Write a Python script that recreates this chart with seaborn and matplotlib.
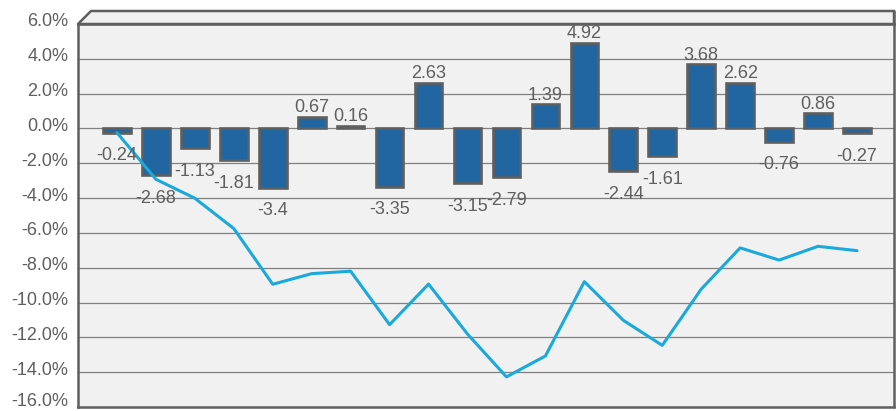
import numpy as np
import pandas as pd
import matplotlib
matplotlib.use('Agg')
import matplotlib.pyplot as plt
from matplotlib.patches import Polygon
from matplotlib.ticker import FuncFormatter
from matplotlib.transforms import ScaledTranslation
import seaborn as sns

# data
periods = list(range(1, 21))
bar_vals = [-0.24, -2.68, -1.13, -1.81, -3.4, 0.67, 0.16, -3.35, 2.63, -3.15,
            -2.79, 1.39, 4.92, -2.44, -1.61, 3.68, 2.62, -0.76, 0.86, -0.27]
line_vals = [-0.24, -2.92, -4.01, -5.75, -8.95, -8.34, -8.20, -11.27, -8.94, -11.81,
             -14.27, -13.07, -8.80, -11.02, -12.46, -9.23, -6.86, -7.56, -6.77, -7.02]
y_ticks = [6, 4, 2, 0, -2, -4, -6, -8, -10, -12, -14, -16]

bar_color = '#2166a0'
edge_color = '#5f5f5f'
line_color = '#19a9dc'
text_color = '#5f5f5f'
bg_color = '#f1f1f1'
font_size = 13

sns.set_style('white')
plt.rcParams['font.family'] = ['Liberation Sans', 'DejaVu Sans']

df = pd.DataFrame({'period': periods, 'ret': bar_vals, 'cum': line_vals})
df['pos'] = np.arange(len(df))

fig = plt.figure(figsize=(8.96, 4.11), dpi=100)
ax = fig.add_axes([78 / 896, 1 - 407 / 411, (894 - 78) / 896, (407 - 24) / 411])
ax.set_facecolor(bg_color)

# grid lines
for t in y_ticks[1:-1]:
    ax.axhline(t, color='#808080', lw=0.9, zorder=0)

sns.barplot(data=df, x='period', y='ret', color=bar_color, width=0.71,
            edgecolor=edge_color, linewidth=1.9, saturation=1, ax=ax, zorder=2)
sns.lineplot(data=df, x='pos', y='cum', color=line_color, lw=2.2, ax=ax, zorder=3)

cont = ax.containers[0]
pos_labels = [f'{v:g}' if v >= 0 else '' for v in bar_vals]
neg_labels = [f'{v:g}' if v < 0 else '' for v in bar_vals]
ax.bar_label(cont, labels=pos_labels, padding=0.5, color=text_color, fontsize=font_size)
ax.bar_label(cont, labels=neg_labels, padding=10.5, color=text_color, fontsize=font_size)

ax.set_xlim(-1.0, 19.95)
ax.set_ylim(-16, 6)
ax.set_yticks(y_ticks)
ax.yaxis.set_major_formatter(FuncFormatter(lambda v, p: f'{v:.1f}%'))
ax.tick_params(axis='y', length=0, pad=7, labelsize=font_size, labelcolor=text_color)
ax.set_xticks([])
ax.set_xlabel('')
ax.set_ylabel('')

# tick labels sit a little above their grid lines in the reference
shift = ScaledTranslation(0, 0.04, fig.dpi_scale_trans)
last_shift = ScaledTranslation(0, 0.075, fig.dpi_scale_trans)
labs = ax.get_yticklabels()
for lab in labs[:-1]:
    lab.set_transform(lab.get_transform() + shift)
labs[-1].set_transform(labs[-1].get_transform() + last_shift)

for s in ['left', 'bottom', 'top', 'right']:
    ax.spines[s].set_color(edge_color)
    ax.spines[s].set_linewidth(1.8)
ax.spines['right'].set_visible(False)

# 3d-look top wall of the plot frame
dx = 13 / 816
dy = 13 / 383
wall = Polygon([(0, 1), (dx, 1 + dy), (1, 1 + dy), (1, 1)], closed=True,
               transform=ax.transAxes, facecolor=bg_color, edgecolor=edge_color,
               lw=1.8, clip_on=False, zorder=5)
ax.add_patch(wall)
ax.plot([1, 1], [0, 1 + dy], transform=ax.transAxes, color=edge_color,
        lw=1.8, clip_on=False, zorder=5)

fig.savefig('out.png', dpi=100)
